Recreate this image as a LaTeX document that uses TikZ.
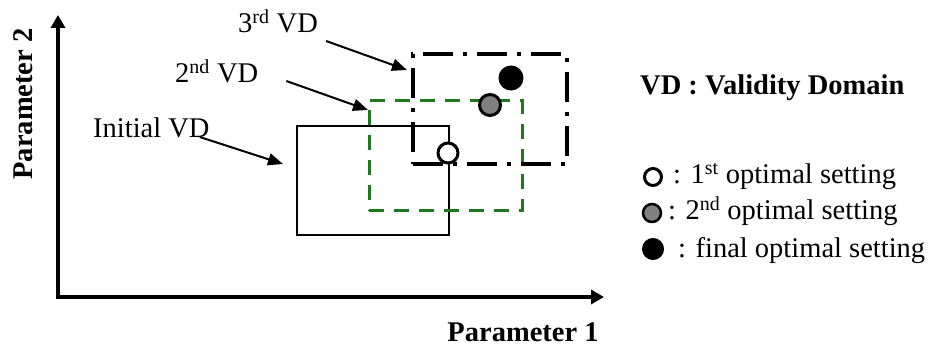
\documentclass[tikz,border=0pt]{standalone}
\usepackage{fontspec}
\setmainfont{Liberation Serif}
\usetikzlibrary{arrows.meta}

\definecolor{vdgreen}{RGB}{30,120,30}
\definecolor{optgray}{RGB}{128,128,128}

\begin{document}
\begin{tikzpicture}[x=1pt, y=-1pt,
    lbl/.style={font=\fontsize{28.5}{34}\selectfont, inner sep=0pt, anchor=base west},
    axis/.style={line width=3.5pt, {Triangle[length=13pt, width=14pt]}-{Triangle[length=13pt, width=14pt]}},
    pointer/.style={line width=2pt, -{Triangle[length=15pt, width=12pt]}},
    vdbox/.style={draw, inner sep=0pt, outer sep=0pt},
    optpt/.style={circle, draw, line width=3pt, inner sep=0pt}
]
\useasboundingbox (0,0) rectangle (933,347);

\coordinate (origin) at (58,297);
\coordinate (ytip) at (58,15);
\coordinate (xtip) at (604,297);
\draw[axis] (ytip) -- (origin) -- (xtip);

\node[lbl, anchor=center, rotate=90] (par2) at (23,104) {\bfseries Parameter 2};
\node[lbl, anchor=center] (par1) at (523,332) {\bfseries Parameter 1};

\node[vdbox, line width=1.5pt, minimum width=152pt, minimum height=109pt] (vd1) at (373,180.5) {};
\node[vdbox, vdgreen, line width=3pt, dash pattern=on 15pt off 10pt, minimum width=153pt, minimum height=110pt] (vd2) at (445.5,156) {};
\node[vdbox, line width=4pt, dash pattern=on 30pt off 10pt on 4pt off 10pt, minimum width=154pt, minimum height=110pt] (vd3) at (490,109) {};

\node[optpt, fill=white, minimum size=20pt] (opt1) at (448,153) {};
\node[optpt, fill=optgray, minimum size=21pt] (opt2) at (490,105) {};
\node[optpt, fill=black, minimum size=22pt] (opt3) at (511,78) {};

\node[lbl] (vd1lbl) at (93,138) {Initial VD};
\node[lbl] (vd2lbl) at (175,83) {2\textsuperscript{nd} VD};
\node[lbl] (vd3lbl) at (238,33) {3\textsuperscript{rd} VD};

\draw[pointer] ([shift={(-10,-1)}]vd1lbl.base east) -- ([shift={(-14,-16.5)}]vd1.west);
\draw[pointer] ([shift={(28,-2)}]vd2lbl.base east) -- ([shift={(-1,9)}]vd2.north west);
\draw[pointer] ([shift={(8,8)}]vd3lbl.base east) -- ([shift={(-6,16)}]vd3.north west);

\node[lbl] (legtitle) at (640,95) {\bfseries VD : Validity Domain};

\node[optpt, fill=white, minimum size=17pt] (leg1) at (653,177) {};
\node[optpt, fill=optgray, line width=2.5pt, minimum size=18pt] (leg2) at (652,213) {};
\node[optpt, fill=black, line width=1pt, minimum size=21pt] (leg3) at (653,249) {};

\node[lbl] (leg1txt) at (673,184) {: 1\textsuperscript{st} optimal setting};
\node[lbl] (leg2txt) at (668,220) {: 2\textsuperscript{nd} optimal setting};
\node[lbl] (leg3txt) at (678,257) {: final optimal setting};
\end{tikzpicture}
\end{document}
